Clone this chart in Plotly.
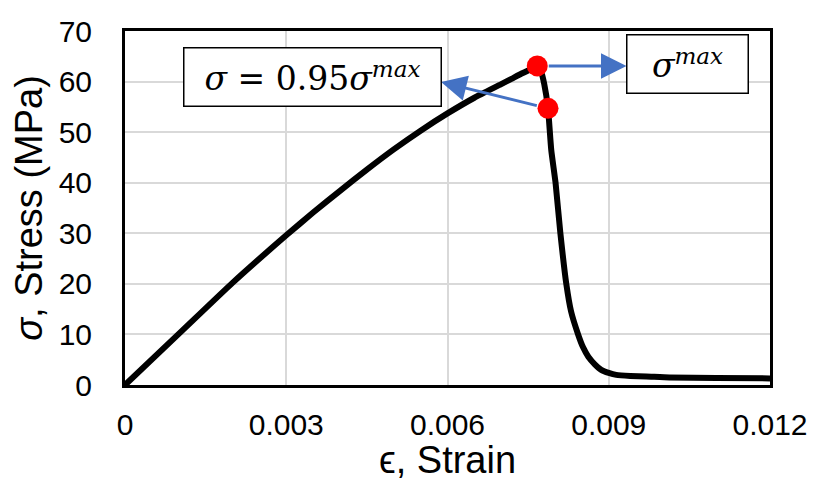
import plotly.graph_objects as go

# stress-strain curve
strain = [0, 0.0010, 0.0020, 0.0030, 0.0035, 0.0040, 0.0045, 0.0050, 0.0055,
          0.0060, 0.0065, 0.0070, 0.0072, 0.0074, 0.0076, 0.00767, 0.00774,
          0.00780, 0.00787, 0.00793, 0.00801, 0.00810, 0.00821, 0.00830,
          0.00843, 0.00852, 0.00862, 0.00874, 0.00886, 0.00900, 0.00914,
          0.0094, 0.0097, 0.01013, 0.0110, 0.0120]
stress = [0, 10.1, 20.2, 29.6, 34.1, 38.4, 42.6, 46.6, 50.3,
          53.7, 56.8, 59.5, 60.6, 61.7, 62.7, 63.1, 62.0,
          59.5, 54.7, 46.5, 40.0, 30.0, 20.0, 14.5,
          10.0, 7.5, 5.6, 4.1, 3.0, 2.4, 2.0,
          1.8, 1.7, 1.5, 1.4, 1.3]

# the two marked points: peak and post-peak
pt_strain = [0.00767, 0.00787]
pt_stress = [63.1, 54.7]

xticks = [0, 0.003, 0.006, 0.009, 0.012]
xtick_text = ["0", "0.003", "0.006", "0.009", "0.012"]
yticks = [0, 10, 20, 30, 40, 50, 60, 70]

# label boxes (centre in data coords) and arrow tips
box_max = dict(x=0.01047, y=63.4, text="<i>σ</i><sup><i>max</i></sup>")
box_95 = dict(x=0.00348, y=61.0, text="<i>σ</i> = 0.95<i>σ</i><sup><i>max</i></sup>")
tip_max = (0.00933, 63.1)
tip_95 = (0.00588, 59.9)

fig = go.Figure()

fig.add_trace(go.Scatter(
    x=strain, y=stress, mode="lines",
    line=dict(color="black", width=6, shape="spline", smoothing=0.5),
    hoverinfo="skip"
))

fig.add_trace(go.Scatter(
    x=pt_strain, y=pt_stress, mode="markers",
    marker=dict(color="#ff0000", size=21),
    hoverinfo="skip"
))

blue = "#4472C4"
arrows = [
    dict(x=tip_max[0], y=tip_max[1], ax=pt_strain[0], ay=pt_stress[0]),
    dict(x=tip_95[0], y=tip_95[1], ax=pt_strain[1], ay=pt_stress[1]),
]
for a in arrows:
    fig.add_annotation(
        x=a["x"], y=a["y"], ax=a["ax"], ay=a["ay"],
        xref="x", yref="y", axref="x", ayref="y",
        text="", showarrow=True, arrowhead=2, arrowsize=1.7,
        arrowwidth=3, arrowcolor=blue, startstandoff=10
    )

box_font = dict(family="DejaVu Serif", size=33, color="black")
fig.add_annotation(
    x=box_95["x"], y=box_95["y"], xref="x", yref="y", text=box_95["text"],
    showarrow=False, font=box_font, bgcolor="white",
    bordercolor="black", borderwidth=1.5, width=254, height=55,
    xanchor="center", yanchor="middle"
)
fig.add_annotation(
    x=box_max["x"], y=box_max["y"], xref="x", yref="y", text=box_max["text"],
    showarrow=False, font=box_font, bgcolor="white",
    bordercolor="black", borderwidth=1.5, width=118, height=55,
    xanchor="center", yanchor="middle"
)

tick_font = dict(family="Liberation Sans", size=30, color="black")
title_font = dict(family="Liberation Sans", size=38, color="black")
# page body adds an 8px margin, so the figure is 8px smaller than the window
fig.update_layout(
    width=823, height=473,
    margin=dict(l=117, r=61, t=23, b=96),
    plot_bgcolor="white", paper_bgcolor="white",
    showlegend=False,
    font=tick_font,
    xaxis=dict(
        range=[0, 0.012], tickvals=xticks, ticktext=xtick_text,
        showgrid=True, gridcolor="#d9d9d9", gridwidth=1.5,
        showline=True, linecolor="black", linewidth=3, mirror=True,
        zeroline=False, ticks="", ticklabelstandoff=11,
        tickfont=tick_font, automargin=False,
        title=dict(text="ϵ, Strain", font=title_font, standoff=4)
    ),
    yaxis=dict(
        range=[0, 70], tickvals=yticks,
        showgrid=True, gridcolor="#d9d9d9", gridwidth=1.5,
        showline=True, linecolor="black", linewidth=3, mirror=True,
        zeroline=False, ticks="", ticklabelstandoff=24,
        tickfont=tick_font, automargin=False,
        title=dict(text="<i>σ</i>, Stress (MPa)", font=title_font, standoff=20)
    ),
)

fig.write_html("out.html")
